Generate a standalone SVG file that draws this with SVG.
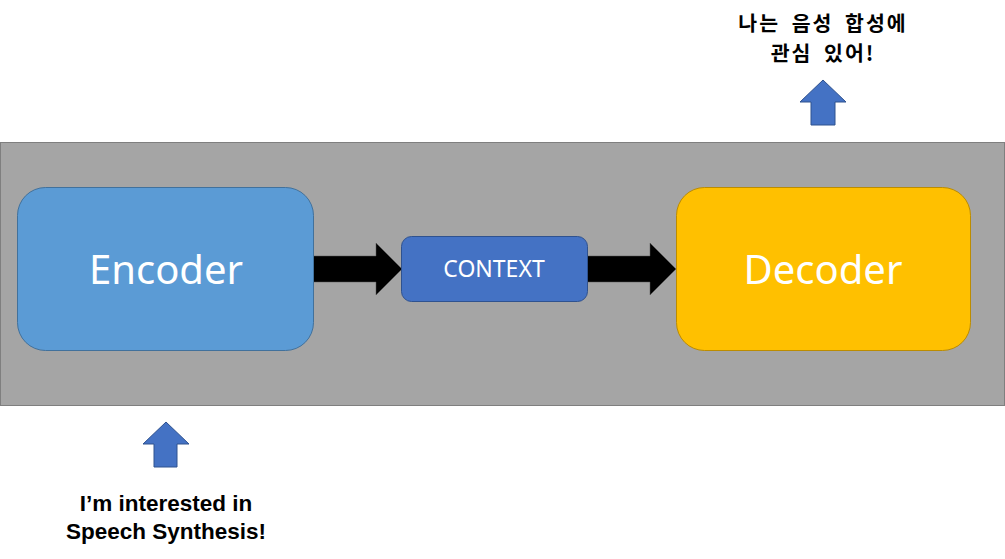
<svg xmlns="http://www.w3.org/2000/svg" width="1005" height="559" viewBox="0 0 1005 559">
<style>
.node-text{font-family:"Noto Sans","Noto Sans CJK KR",sans-serif;fill:#ffffff;text-anchor:middle}
.ko{font-family:"Noto Sans CJK KR","Noto Sans",sans-serif;font-weight:bold;fill:#000000;text-anchor:middle;font-size:20.5px;letter-spacing:2px;word-spacing:5px}
.en{font-family:"Liberation Sans","Noto Sans",sans-serif;font-weight:bold;fill:#000000;text-anchor:middle;font-size:22.5px}
.up{fill:#4472c4;stroke:#2f528f;stroke-width:1}
.flow{fill:#000000;stroke:#555555;stroke-width:0.5}
</style>
<rect id="background" x="0.5" y="142.5" width="1004" height="263" fill="#a5a5a5" stroke="#7f7f7f" stroke-width="1"/>
<g id="connectors">
<polygon class="flow" points="313,256 376,256 376,243 402,269 376,295 376,282 313,282"/>
<polygon class="flow" points="587,256 650,256 650,243 676,269 650,295 650,282 587,282"/>
<polygon class="up" points="823,80 846,102 835,102 835,125 811,125 811,102 800,102"/>
<polygon class="up" points="166,422 189,444 177,444 177,467 154,467 154,444 143,444"/>
</g>
<g id="encoder">
<rect x="17.5" y="187.5" width="296" height="163" rx="28" fill="#5b9bd5" stroke="#41719c" stroke-width="1"/>
<text class="node-text" x="166" y="284" font-size="40">Encoder</text>
</g>
<g id="context">
<rect x="401.5" y="236.5" width="186" height="65" rx="10" fill="#4472c4" stroke="#2f528f" stroke-width="1"/>
<text class="node-text" x="494" y="277" font-size="23">CONTEXT</text>
</g>
<g id="decoder">
<rect x="676.5" y="187.5" width="294" height="163" rx="28" fill="#ffc000" stroke="#bc8c00" stroke-width="1"/>
<text class="node-text" x="823" y="284" font-size="40">Decoder</text>
</g>
<g id="output-label">
<text class="ko" x="823" y="31">나는 음성 합성에</text>
<text class="ko" x="823" y="61">관심 있어!</text>
</g>
<g id="input-label">
<text class="en" x="166" y="511">I’m interested in</text>
<text class="en" x="166" y="539">Speech Synthesis!</text>
</g>
</svg>
